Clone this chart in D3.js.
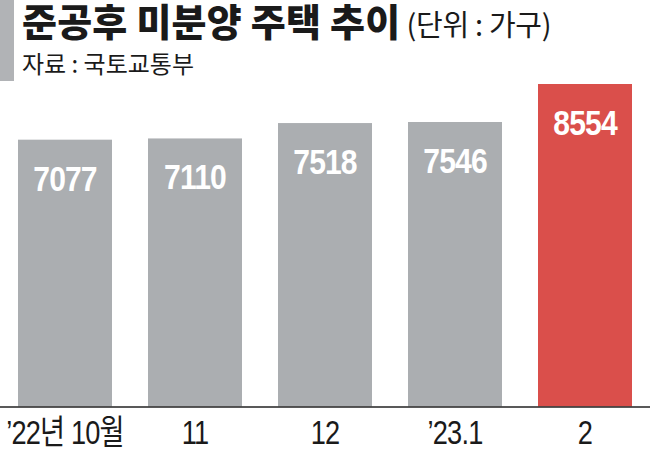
<!DOCTYPE html>
<html><head><meta charset="utf-8">
<script src="https://cdn.jsdelivr.net/npm/d3@7"></script>
<style>body{margin:0;background:#fff}svg{display:block}</style>
</head><body><svg id="c" width="650" height="455"></svg>
<script>
const categories = ["’22년 10월", "11", "12", "’23.1", "2"];
const values = [7077, 7110, 7518, 7546, 8554];
const highlight = [false, false, false, false, true];
const title = "준공후 미분양 주택 추이";
const unit = "(단위 : 가구)";
const source = "자료 : 국토교통부";

const svg = d3.select("#c");
const W = 650, H = 455;
const x = d3.scaleBand().domain(categories).range([18, 632]).paddingInner(0.277).paddingOuter(0);
const y = d3.scaleLinear().domain([0, 8554]).range([406.5, 84]);

svg.append("rect").attr("x", 0).attr("y", 0).attr("width", 14).attr("height", 81).attr("fill", "#b1b3b6");

const kr = "'Noto Sans CJK KR', sans-serif";
const t = svg.append("text").attr("x", 22).attr("y", 36).attr("font-family", kr);
t.append("tspan").text(title).attr("font-size", 38).attr("font-weight", 900).attr("fill", "#1a1a1a").attr("letter-spacing", 0.2);
t.append("tspan").text(" " + unit).attr("font-size", 29).attr("font-weight", 400).attr("fill", "#1a1a1a").attr("letter-spacing", -0.3);
svg.append("text").attr("x", 22).attr("y", 73).attr("font-family", kr).attr("font-size", 24)
  .attr("fill", "#1a1a1a").attr("letter-spacing", 0).text(source);

svg.selectAll("rect.bar").data(values).join("rect").attr("class", "bar")
  .attr("x", (d, i) => x(categories[i])).attr("width", x.bandwidth())
  .attr("y", d => y(d)).attr("height", d => y(0) - y(d))
  .attr("fill", (d, i) => highlight[i] ? "#da4f4b" : "#abaeb1");

svg.selectAll("text.val").data(values).join("text").attr("class", "val")
  .attr("transform", (d, i) => `translate(${x(categories[i]) + x.bandwidth() / 2},${y(d) + 51}) scale(0.86,1)`)
  .attr("text-anchor", "middle").attr("fill", "#fff")
  .attr("font-family", "'Liberation Sans', Arial, sans-serif").attr("font-weight", 700)
  .attr("font-size", 35).attr("letter-spacing", -1).text(d => d);

const axis = d3.axisBottom(x).tickSize(0).tickPadding(0);
const g = svg.append("g").attr("transform", `translate(0,${y(0)})`).call(axis);
g.select(".domain").remove();
svg.append("line").attr("x1", 0).attr("x2", W).attr("y1", y(0) + 0.5).attr("y2", y(0) + 0.5)
  .attr("stroke", "#222").attr("stroke-width", 1.5);
g.selectAll(".tick text").attr("dy", 0).attr("y", 0)
  .attr("transform", "translate(0,37) scale(0.8,1)")
  .attr("font-family", "'Liberation Sans', " + kr).attr("font-size", 34)
  .attr("fill", "#1a1a1a").attr("letter-spacing", -1);
</script></body></html>
